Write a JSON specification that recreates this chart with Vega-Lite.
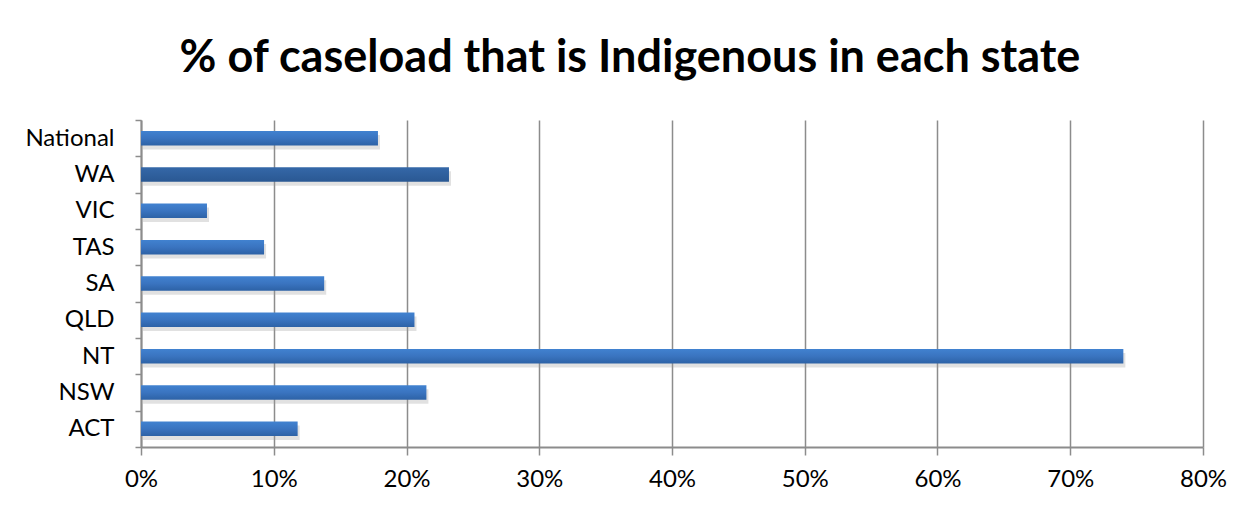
{
  "$schema": "https://vega.github.io/schema/vega-lite/v6.json",
  "width": 1062,
  "height": 327,
  "autosize": {"type": "none"},
  "padding": {"left": 141, "top": 120, "right": 45, "bottom": 61},
  "background": "white",
  "title": {
    "text": "% of caseload that is Indigenous in each state",
    "font": "Lato",
    "fontSize": 45,
    "fontWeight": "bold",
    "color": "black",
    "anchor": "middle",
    "dx": -42,
    "offset": 27
  },
  "data": {
    "values": [
      {"state": "National", "pct": 0.1785},
      {"state": "WA", "pct": 0.232},
      {"state": "VIC", "pct": 0.0497},
      {"state": "TAS", "pct": 0.0927},
      {"state": "SA", "pct": 0.138},
      {"state": "QLD", "pct": 0.206},
      {"state": "NT", "pct": 0.740},
      {"state": "NSW", "pct": 0.215},
      {"state": "ACT", "pct": 0.118}
    ]
  },
  "config": {
    "view": {"stroke": null},
    "axis": {
      "labelFont": "Lato",
      "labelFontSize": 24,
      "labelColor": "black",
      "domainColor": "#8c8c8c",
      "domainWidth": 2,
      "tickColor": "#8c8c8c",
      "tickWidth": 1.5,
      "gridColor": "#8c8c8c",
      "gridWidth": 1.5,
      "title": null
    }
  },
  "encoding": {
    "y": {
      "field": "state",
      "type": "nominal",
      "sort": ["National", "WA", "VIC", "TAS", "SA", "QLD", "NT", "NSW", "ACT"],
      "scale": {"paddingInner": 0, "paddingOuter": 0},
      "axis": {"tickBand": "extent", "tickSize": 6, "labelPadding": 21, "grid": false, "domain": true}
    },
    "x": {
      "field": "pct",
      "type": "quantitative",
      "scale": {"domain": [0, 0.8], "nice": false},
      "axis": {"format": ".0%", "values": [0, 0.1, 0.2, 0.3, 0.4, 0.5, 0.6, 0.7, 0.8], "tickSize": 8, "labelPadding": 12, "labelFlush": false, "grid": true}
    }
  },
  "layer": [
    {
      "mark": {"type": "bar", "color": "#9a9a9a", "opacity": 0.3, "yOffset": 4, "xOffset": 2, "height": {"band": 0.4}}
    },
    {
      "mark": {"type": "bar", "height": {"band": 0.4}},
      "encoding": {
        "color": {
          "condition": {
            "test": "datum.state === 'WA'",
            "value": {"gradient": "linear", "x1": 0, "y1": 0, "x2": 0, "y2": 1, "stops": [{"offset": 0, "color": "#3568a8"}, {"offset": 1, "color": "#2a5893"}]}
          },
          "value": {"gradient": "linear", "x1": 0, "y1": 0, "x2": 0, "y2": 1, "stops": [{"offset": 0, "color": "#4182d0"}, {"offset": 0.5, "color": "#3a74c0"}, {"offset": 1, "color": "#2d62a6"}]}
        }
      }
    }
  ]
}
